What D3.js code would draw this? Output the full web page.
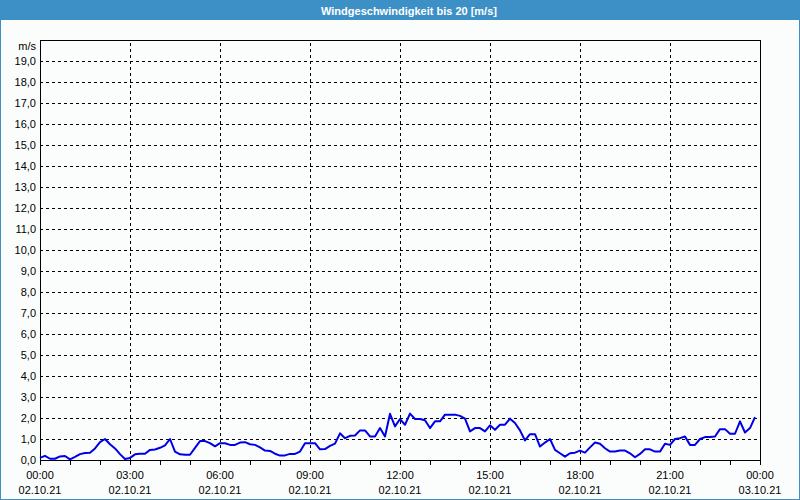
<!DOCTYPE html>
<html>
<head>
<meta charset="utf-8">
<script src="https://cdn.jsdelivr.net/npm/d3@7"></script>
<style>
  html, body { margin: 0; padding: 0; background: #fbfdfc; }
  svg { display: block; }
  text { font-family: "Liberation Sans", Arial, sans-serif; }
</style>
</head>
<body>
<svg id="chart" width="800" height="500"></svg>
<script>
// ---- data ----
const title = "Windgeschwindigkeit bis 20 [m/s]";
const unitLabel = "m/s";
const startTime = new Date(2021, 9, 2, 0, 0);
const endTime = new Date(2021, 9, 3, 0, 0);
const stepMinutes = 10;
const values00to06 = [0.1,0.2,0.06,0.06,0.17,0.19,0.03,0.15,0.28,0.33,0.35,0.55,0.85,1.0,0.75,0.55,0.28,0.05,
  0.1,0.27,0.3,0.3,0.48,0.5,0.58,0.7,1.0,0.4,0.27,0.25,0.25,0.58,0.9,0.9,0.8,0.65];
const values06to12 = [0.8,0.8,0.72,0.72,0.83,0.85,0.75,0.72,0.6,0.45,0.43,0.3,0.21,0.22,0.29,0.29,0.4,0.8,
  0.8,0.8,0.51,0.52,0.67,0.78,1.27,1.04,1.15,1.17,1.41,1.41,1.12,1.12,1.52,1.12,2.2,1.6];
const values12to18 = [1.95,1.68,2.21,1.95,1.95,1.89,1.52,1.84,1.84,2.16,2.16,2.16,2.1,1.97,1.36,1.52,1.52,1.36,
  1.65,1.44,1.68,1.68,1.97,1.76,1.41,0.93,1.23,1.23,0.64,0.83,1.0,0.48,0.32,0.16,0.32,0.35];
const values18to24 = [0.45,0.35,0.6,0.83,0.77,0.56,0.4,0.4,0.45,0.45,0.32,0.13,0.29,0.51,0.51,0.4,0.4,0.77,
  0.72,1.0,1.04,1.12,0.72,0.72,1.0,1.09,1.1,1.12,1.47,1.47,1.25,1.25,1.84,1.31,1.52,2.04];
const yTickValues = [0,1,2,3,4,5,6,7,8,9,10,11,12,13,14,15,16,17,18,19];
const yMax = 20;

const values = values00to06.concat(values06to12, values12to18, values18to24);
const data = values.map((v, i) => ({ t: new Date(startTime.getTime() + i * stepMinutes * 60000), v }));

// ---- layout ----
const W = 800, H = 500;
const plot = { left: 40, top: 40, right: 760, bottom: 460 };
const svg = d3.select("#chart");

svg.append("rect").attr("x", 0.5).attr("y", 0.5).attr("width", W - 1).attr("height", H - 1)
  .attr("fill", "#fbfdfc").attr("stroke", "#3d90c6");
svg.append("rect").attr("x", 0).attr("y", 0).attr("width", W).attr("height", 20).attr("fill", "#3d90c6");
svg.append("text").attr("x", 409).attr("y", 15).attr("text-anchor", "middle")
  .attr("fill", "#ffffff").attr("font-weight", "bold").attr("font-size", "11px").text(title);

const x = d3.scaleTime().domain([startTime, endTime]).range([plot.left, plot.right]);
const y = d3.scaleLinear().domain([0, yMax]).range([plot.bottom, plot.top]);

// horizontal grid
const gridY = svg.append("g").attr("transform", `translate(${plot.left},0)`)
  .call(d3.axisLeft(y).tickValues(yTickValues.filter(d => d > 0)).tickSize(-(plot.right - plot.left)).tickFormat(""));
gridY.select(".domain").remove();
gridY.selectAll("line").attr("stroke", "#000").attr("stroke-dasharray", "3,3").attr("shape-rendering", "crispEdges");

// vertical grid
const majorTicks = d3.timeHour.every(3).range(startTime, new Date(endTime.getTime() + 1));
const gridX = svg.append("g").attr("transform", `translate(0,${plot.bottom})`)
  .call(d3.axisBottom(x).tickValues(majorTicks.filter(d => d > startTime && d < endTime))
    .tickSize(-(plot.bottom - plot.top)).tickFormat(""));
gridX.select(".domain").remove();
gridX.selectAll("line").attr("stroke", "#000").attr("stroke-dasharray", "3,3").attr("shape-rendering", "crispEdges");

// hourly ticks below axis
const hourAxis = svg.append("g").attr("transform", `translate(0,${plot.bottom})`)
  .call(d3.axisBottom(x).ticks(d3.timeHour.every(1)).tickSize(5).tickFormat(""));
hourAxis.select(".domain").remove();
hourAxis.selectAll("line").attr("stroke", "#000").attr("shape-rendering", "crispEdges");

// x labels
const fmtTime = d3.timeFormat("%H:%M"), fmtDate = d3.timeFormat("%d.%m.%y");
const xl = svg.append("g");
majorTicks.forEach(d => {
  xl.append("text").attr("x", x(d)).attr("y", 479).attr("text-anchor", "middle")
    .attr("font-size", "11px").attr("fill", "#000").text(fmtTime(d));
  xl.append("text").attr("x", x(d)).attr("y", 494).attr("text-anchor", "middle")
    .attr("font-size", "11px").attr("fill", "#000").text(fmtDate(d));
});

// y labels
const yAxis = svg.append("g").attr("transform", `translate(${plot.left},0)`)
  .call(d3.axisLeft(y).tickValues(yTickValues).tickSize(0).tickPadding(4)
    .tickFormat(d => d.toFixed(1).replace(".", ",")));
yAxis.select(".domain").remove();
yAxis.selectAll("text").attr("font-size", "11px").attr("fill", "#000")
  .attr("font-family", "Liberation Sans, Arial, sans-serif");
svg.append("text").attr("x", 36).attr("y", 50).attr("text-anchor", "end")
  .attr("font-size", "11px").attr("fill", "#000").text(unitLabel);

// plot border
svg.append("rect").attr("x", plot.left + 0.5).attr("y", plot.top + 0.5)
  .attr("width", plot.right - plot.left).attr("height", plot.bottom - plot.top)
  .attr("fill", "none").attr("stroke", "#000");

// line
const line = d3.line().x(d => x(d.t)).y(d => y(d.v));
svg.append("path").datum(data).attr("d", line).attr("fill", "none")
  .attr("stroke", "#0000e6").attr("stroke-width", 2).attr("stroke-linejoin", "round");
</script>
</body>
</html>
